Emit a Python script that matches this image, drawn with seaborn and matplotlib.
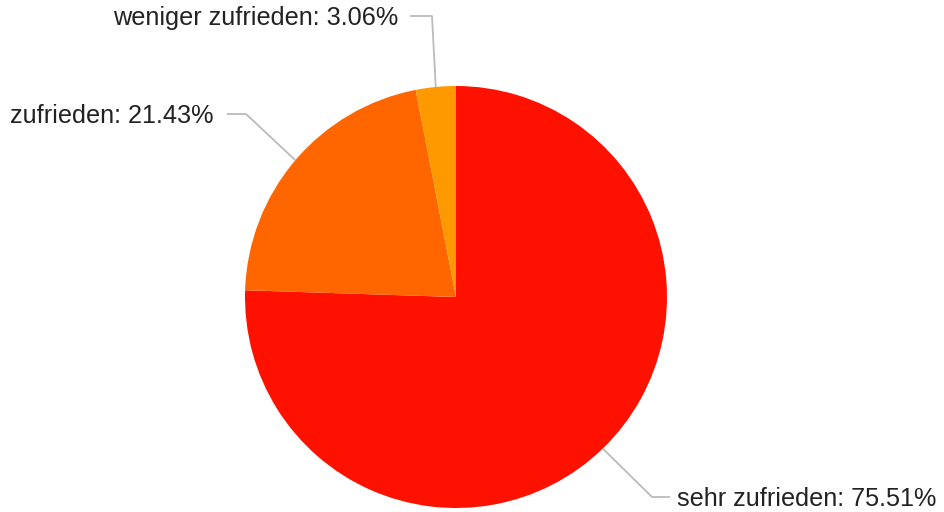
import numpy as np
import matplotlib
matplotlib.use("Agg")
import matplotlib.pyplot as plt
import seaborn as sns

categories = ["sehr zufrieden", "zufrieden", "weniger zufrieden"]
values = [75.51, 21.43, 3.06]
colors = ["#ff1100", "#ff6600", "#ff9900"]

sns.set_theme(style="white")
plt.rcParams['font.family'] = ['Liberation Sans', 'DejaVu Sans']

W, H = 944, 512
fig = plt.figure(figsize=(W / 100, H / 100), dpi=100)
ax = fig.add_axes([0, 0, 1, 1])

cx, cy, r = 456, H - 297, 211
wedges, _ = ax.pie(values, colors=colors, startangle=90, counterclock=False,
                   center=(cx, cy), radius=r, frame=True,
                   wedgeprops=dict(linewidth=0))
ax.set_xlim(0, W)
ax.set_ylim(0, H)
ax.set_aspect("equal")
ax.axis("off")

# leader line layout: (elbow x, elbow y, horizontal end x, text x, ha)
layout = [
    (652, H - 497, 670, 677, "left"),
    (246, H - 114, 227, 214, "right"),
    (432, H - 16, 410, 398, "right"),
]
for w, cat, val, (ex, ey, hx, tx, ha) in zip(wedges, categories, values, layout):
    ang = np.deg2rad((w.theta1 + w.theta2) / 2)
    px, py = cx + r * np.cos(ang), cy + r * np.sin(ang)
    ax.plot([px, ex, hx], [py, ey, ey], color="#bbbbbb", lw=1.3, solid_capstyle="butt")
    ax.text(tx, ey - 2, f"{cat}: {val:.2f}%", ha=ha, va="center",
            fontsize=18.2, color="#222222")

fig.savefig("out.png", dpi=100)
